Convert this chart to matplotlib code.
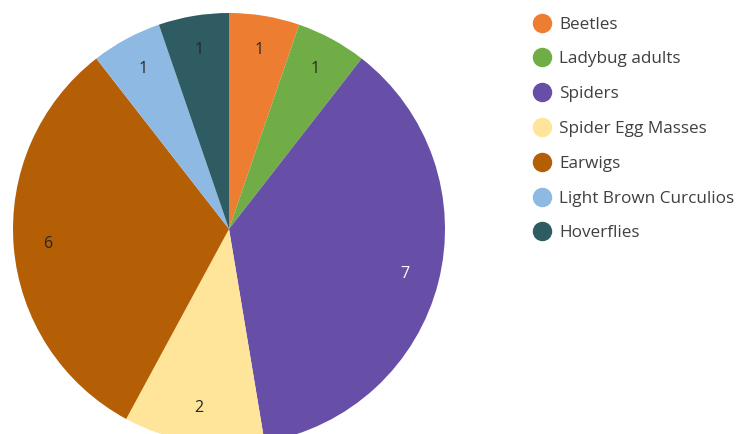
import matplotlib
matplotlib.use("Agg")
import matplotlib.pyplot as plt
from matplotlib.lines import Line2D

categories = ["Beetles", "Ladybug adults", "Spiders", "Spider Egg Masses",
              "Earwigs", "Light Brown Curculios", "Hoverflies"]
values = [1, 1, 7, 2, 6, 1, 1]
colors = ["#ED7D31", "#70AD47", "#674EA7", "#FFE599", "#B45F06", "#8DB9E3", "#2F5C63"]
label_colors = ["#262626", "#262626", "white", "#262626", "#262626", "#262626", "#262626"]

plt.rcParams['font.family'] = ['Open Sans', 'DejaVu Sans']
W, H = 741, 434
fig = plt.figure(figsize=(W / 100, H / 100), dpi=100)
ax = fig.add_axes([0, 0, 1, 1])

cx, cy, r = 229, H - 229, 216
wedges, texts = ax.pie(values, colors=colors, startangle=90, counterclock=False,
                       center=(cx, cy), radius=r, labels=[str(v) for v in values],
                       labeldistance=0.84, frame=True,
                       textprops=dict(fontsize=11.5, ha='center', va='center'))
for t, c in zip(texts, label_colors):
    t.set_color(c)
ax.set_xlim(0, W)
ax.set_ylim(0, H)
ax.set_aspect('equal')
ax.axis('off')

handles = [Line2D([], [], marker='o', linestyle='none', markersize=13,
                  markerfacecolor=c, markeredgecolor=c) for c in colors]
leg = fig.legend(handles, categories, loc='upper left',
                 bbox_to_anchor=(526 / W, 1 - 8 / H), frameon=False,
                 fontsize=12.3, labelspacing=1.1, handletextpad=0.55,
                 handlelength=0.9, borderpad=0)
for t in leg.get_texts():
    t.set_color("#404040")

fig.savefig("out.png", dpi=100)
